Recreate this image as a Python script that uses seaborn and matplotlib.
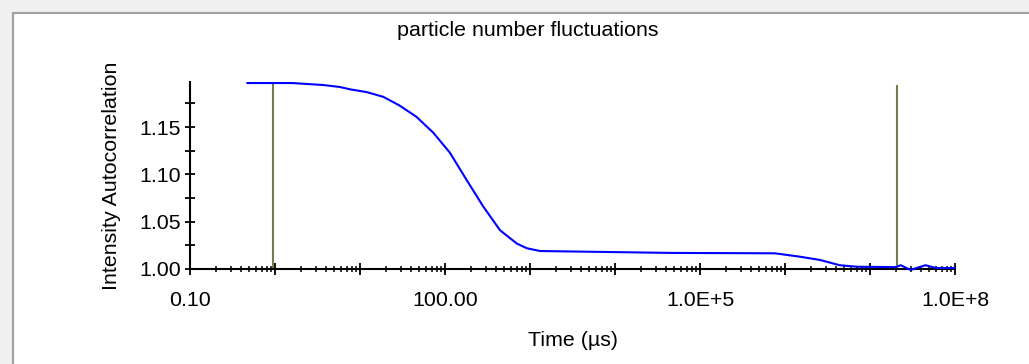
import matplotlib
matplotlib.use("Agg")
import matplotlib.pyplot as plt
import matplotlib.ticker as mticker
from matplotlib.patches import Rectangle
import seaborn as sns

# curve (time in us, autocorrelation)
time_us = [0.47, 1.6, 3.7, 5.8, 7.6, 12, 18.8, 29, 46, 73, 114, 180, 282, 444,
           697, 914, 1312, 46400, 7.6e5, 1.5e6, 2.6e6, 4.4e6, 7.0e6, 2.0e7,
           2.3e7, 3.0e7, 3.5e7, 4.5e7, 6.0e7, 1.0e8]
g2 = [1.1966, 1.1966, 1.1945, 1.1924, 1.190, 1.187, 1.182, 1.173, 1.161, 1.144,
      1.123, 1.094, 1.066, 1.041, 1.027, 1.022, 1.019, 1.017, 1.0166, 1.013,
      1.0095, 1.004, 1.0024, 1.002, 1.004, 0.999, 1.001, 1.004, 1.001, 1.001]

# fit range markers
marker_x = [0.96, 2.06e7]
marker_top = [1.1966, 1.1945]

x_major = [0.1, 1, 10, 100, 1e3, 1e4, 1e5, 1e6, 1e7, 1e8]
x_labels = ["0.10", "", "", "100.00", "", "", "1.0E+5", "", "", "1.0E+8"]
y_major = [1.00, 1.05, 1.10, 1.15]
y_labels = ["1.00", "1.05", "1.10", "1.15"]

sns.set_style("white")
plt.rcParams["font.family"] = ["Liberation Sans", "DejaVu Sans"]
fs = 15.4

W, H = 1029, 364
fig = plt.figure(figsize=(W / 100, H / 100), dpi=100, facecolor="#f0f0f0")

# sunken panel behind the chart
fig.add_artist(Rectangle((13 / W, -0.1), 1.2, 1 - 13 / H + 0.1,
                         transform=fig.transFigure, facecolor="white",
                         edgecolor="#a0a0a0", linewidth=1.5, zorder=0))

ax = fig.add_axes([190 / W, 95 / H, 765 / W, 187 / H])
ax.set_facecolor("none")

sns.lineplot(x=time_us, y=g2, ax=ax, color="#0000ff", linewidth=1.5,
             estimator=None, clip_on=False, zorder=3)
ax.vlines(marker_x, 1.0, marker_top, color="#6f8050", linewidth=1.5, zorder=2)

ax.set_xscale("log")
ax.set_xlim(0.1, 1e8)
ax.set_ylim(1.0, 1.1977)

ax.set_xticks(x_major)
ax.set_xticklabels(x_labels)
ax.xaxis.set_minor_locator(mticker.LogLocator(base=10, subs=range(2, 10), numticks=100))
ax.xaxis.set_minor_formatter(mticker.NullFormatter())
ax.set_yticks(y_major)
ax.set_yticklabels(y_labels)
ax.yaxis.set_minor_locator(mticker.FixedLocator([1.025, 1.075, 1.125, 1.175]))

for s in ["top", "right"]:
    ax.spines[s].set_visible(False)
for s in ["left", "bottom"]:
    ax.spines[s].set_color("black")
    ax.spines[s].set_linewidth(1.5)

ax.tick_params(axis="x", which="major", direction="inout", length=8, width=1.3,
               pad=11.5, labelsize=fs, colors="black", bottom=True)
ax.tick_params(axis="x", which="minor", direction="inout", length=4.3, width=1.3,
               bottom=True)
ax.tick_params(axis="y", which="both", direction="inout", length=6.5, width=1.3,
               pad=3, labelsize=fs, colors="black", left=True)

ax.set_xlabel("Time (\u00b5s)", fontsize=fs, color="black", va="top")
ax.xaxis.set_label_coords(0.5, (269 - 331) / 187)
ax.set_ylabel("Intensity Autocorrelation", fontsize=fs, color="black")
ax.yaxis.set_label_coords((121 - 190) / 765, 0.5)
ax.set_title("particle number fluctuations", fontsize=fs, color="black",
             x=(528 - 190) / 765, y=(269 - 36) / 187, pad=0)

plt.savefig("out.png", dpi=100, facecolor=fig.get_facecolor())
